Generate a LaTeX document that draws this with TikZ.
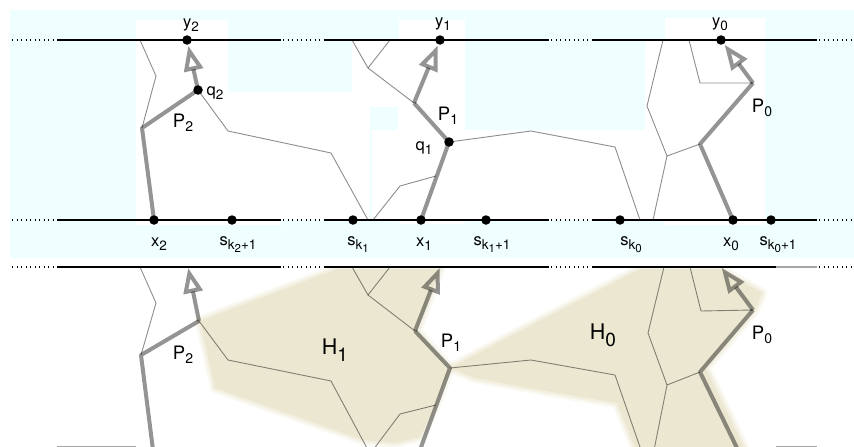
\documentclass[tikz,border=0pt]{standalone}
\usepackage{fontspec}
\setmainfont{TeX Gyre Heros}
\usetikzlibrary{arrows.meta}
\definecolor{bgcyan}{RGB}{239,254,254}
\definecolor{hcol}{RGB}{235,231,208}
\newcommand\vsub[2]{#1\raisebox{-4pt}{\fontsize{13.5}{13.5}\selectfont #2}}
\newcommand\sks[2]{s\raisebox{-4pt}{\fontsize{13.5}{13.5}\selectfont k\raisebox{-3pt}{\fontsize{11.5}{11.5}\selectfont #1}#2}}
\newcommand\Psub[1]{P\raisebox{-4pt}{\fontsize{14}{14}\selectfont #1}}
\newcommand\Hsub[1]{H\raisebox{-7pt}{\fontsize{19}{19}\selectfont #1}}
\newcommand\blob[1]{%
  \draw[hcol, opacity=0.3, line width=10pt, line join=round] #1;
  \draw[hcol, opacity=0.45, line width=5pt, line join=round] #1;
  \fill[hcol] #1;}
\begin{document}
\begin{tikzpicture}[x=1pt,y=-1pt,
  hline/.style={line width=2pt},
  dotline/.style={line width=1.2pt, dash pattern=on 1.2pt off 3.3pt},
  thinl/.style={black, opacity=0.45, line width=0.9pt, line join=round},
  pth/.style={black, opacity=0.42, line width=4pt, line join=round},
  arr/.style={pth, shorten >=6pt, -{Triangle[open,length=25pt,width=19pt,line width=4pt]}},
  dot/.style={circle, fill=black, inner sep=0pt, minimum size=9.5pt},
  lab/.style={inner sep=0pt, font=\fontsize{16.5}{16.5}\selectfont},
  plab/.style={inner sep=0pt, font=\fontsize{18.5}{18.5}\selectfont},
  hlab/.style={inner sep=0pt, font=\fontsize{21.5}{21.5}\selectfont}]
\useasboundingbox (0,0) rectangle (854,447);
\clip (0,0) rectangle (854,447);

% ---------- top panel background ----------
\fill[bgcyan] (10,10) rectangle (854,258);
\fill[white] (136,20) rectangle (228,225);
\fill[white] (228,92) rectangle (281,225);
\fill[white] (281,92) rectangle (352,220);
\fill[white] (352,40) rectangle (465,220);
\fill[white] (399,220) rectangle (465,224);
\fill[white] (399,20) rectangle (465,40);
\fill[white] (465,130) rectangle (645,220);
\fill[white] (645,40) rectangle (765,220);
\fill[white] (665,220) rectangle (765,225);
\fill[white] (665,18) rectangle (765,40);
\fill[bgcyan] (370,107) rectangle (398,130);
\fill[bgcyan] (370,130) rectangle (372,220);

% ---------- lower panel shading ----------
\begin{scope}
\clip (0,268) rectangle (854,447);
\blob{(200,321) -- (337,269) -- (440,269) -- (417,331) -- (450,368) -- (436,405) -- (420,437) -- (395,443) -- (363,440) -- (215,388) -- cycle}
\blob{(450,368) -- (545,318) -- (640,269) -- (720,269) -- (762,293) -- (755,310) -- (706,368) -- (745,450) -- (636,450) -- (617,403) -- (540,390) -- (475,378) -- cycle}
\end{scope}

% ---------- horizontal lines ----------
\foreach \yy in {40,220,267}{
  \draw[dotline] (12,\yy) -- (57,\yy);
  \draw[dotline] (283,\yy) -- (325,\yy);
  \draw[dotline] (551,\yy) -- (593,\yy);
  \draw[dotline] (819,\yy) -- (854,\yy);
  \draw[hline] (57,\yy) -- (281,\yy);
  \draw[hline] (325,\yy) -- (549,\yy);
}
\draw[hline] (593,40) -- (817,40);
\draw[hline] (593,220) -- (817,220);
\draw[hline] (593,267) -- (776,267);
\draw[hline, gray!70] (776,267) -- (817,267);
\draw[hline, gray!70] (57,446.5) -- (136,446.5);
\draw[hline, gray!70] (776,446.5) -- (817,446.5);

% ---------- top panel graph ----------
\coordinate (b2) at (142,128);
\coordinate (b1) at (414,103);
\coordinate (a0) at (753,83);
\coordinate (b0) at (700,144);
\draw[thinl] (140,40) -- (156,76) -- (b2);
\draw[thinl] (198,90) -- (228,131) -- (331,153) -- (368,220);
\draw[thinl] (373,220) -- (400,186) -- (436,176);
\draw[thinl] (352,40) -- (368,68) -- (390,40);
\draw[thinl] (368,68) -- (b1);
\draw[thinl] (449,142) -- (531,131) -- (615,147) -- (640,220);
\draw[thinl] (663,40) -- (647,106) -- (667,156) -- (653,220);
\draw[thinl] (667,156) -- (b0);
\draw[thinl] (689,40) -- (700,83) -- (a0);

\node[dot] (y2) at (187,40) {};
\node[dot] (q2) at (198,90) {};
\node[dot] (x2) at (154,220) {};
\node[dot] (s2) at (232,220) {};
\node[dot] (y1) at (440,40) {};
\node[dot] (q1) at (449,142) {};
\node[dot] (x1) at (421,220) {};
\node[dot] (sk1) at (353,220) {};
\node[dot] (s1) at (486,220) {};
\node[dot] (y0) at (721,40) {};
\node[dot] (x0) at (733,220) {};
\node[dot] (sk0) at (620,220) {};
\node[dot] (s0) at (771,220) {};

\draw[pth] (x2.center) -- (b2) -- (q2.center);
\draw[arr] (q2.center) -- (y2.center);
\draw[pth] (x1.center) -- (q1.center) -- (b1);
\draw[arr] (b1) -- (y1.center);
\draw[pth] (x0.center) -- (b0) -- (a0);
\draw[arr] (a0) -- (y0.center);

\node[lab] (ly2) at (191,25) {\vsub{y}{2}};
\node[lab] (lq2) at (215,93) {\vsub{q}{2}};
\node[plab] (lp2) at (183,123) {\Psub{2}};
\node[lab] (ly1) at (443,24) {\vsub{y}{1}};
\node[plab] (lp1) at (448,116) {\Psub{1}};
\node[lab] (lq1) at (424,148) {\vsub{q}{1}};
\node[lab] (ly0) at (720,24) {\vsub{y}{0}};
\node[plab] (lp0) at (762,108) {\Psub{0}};
\node[lab] (lx2) at (159,244) {\vsub{x}{2}};
\node[lab] (ls2) at (238,245) {\sks{2}{+1}};
\node[lab] (lsk1) at (358,245) {\sks{1}{}};
\node[lab] (lx1) at (424,244) {\vsub{x}{1}};
\node[lab] (ls1) at (492,245) {\sks{1}{+1}};
\node[lab] (lsk0) at (631,245) {\sks{0}{}};
\node[lab] (lx0) at (731,244) {\vsub{x}{0}};
\node[lab] (ls0) at (778,245) {\sks{0}{+1}};

% ---------- lower panel graph ----------
\coordinate (Ly2) at (188,267);
\coordinate (Lq2) at (199,321);
\coordinate (Lb2) at (141,355);
\coordinate (Lx2) at (153,450);
\coordinate (Ly1) at (440,267);
\coordinate (Lb1) at (415,331);
\coordinate (Lq1) at (450,368);
\coordinate (Lx1) at (420,450);
\coordinate (Ly0) at (721,267);
\coordinate (La0) at (753,310);
\coordinate (Lb0) at (700,372);
\coordinate (Lx0) at (738,450);
\draw[thinl] (140,267) -- (156,303) -- (Lb2);
\draw[thinl] (Lq2) -- (228,360) -- (331,381) -- (368,450);
\draw[thinl] (373,450) -- (400,414) -- (436,405);
\draw[thinl] (352,267) -- (368,295) -- (390,267);
\draw[thinl] (368,295) -- (Lb1);
\draw[thinl] (Lq1) -- (531,360) -- (615,375) -- (641,450);
\draw[thinl] (664,267) -- (648,333) -- (667,385) -- (654,450);
\draw[thinl] (667,385) -- (Lb0);
\draw[thinl] (690,267) -- (701,311) -- (La0);

\draw[pth] (Lx2) -- (Lb2) -- (Lq2);
\draw[arr, shorten >=1pt] (Lq2) -- (Ly2);
\draw[pth] (Lx1) -- (Lq1) -- (Lb1);
\draw[arr, shorten >=1pt] (Lb1) -- (Ly1);
\draw[pth] (Lx0) -- (Lb0) -- (La0);
\draw[arr, shorten >=1pt] (La0) -- (Ly0);

\node[plab] (Llp2) at (183,355) {\Psub{2}};
\node[hlab] (Llh1) at (335,350) {\Hsub{1}};
\node[plab] (Llp1) at (451,343) {\Psub{1}};
\node[hlab] (Llh0) at (603,335) {\Hsub{0}};
\node[plab] (Llp0) at (762,335) {\Psub{0}};
\end{tikzpicture}
\end{document}
